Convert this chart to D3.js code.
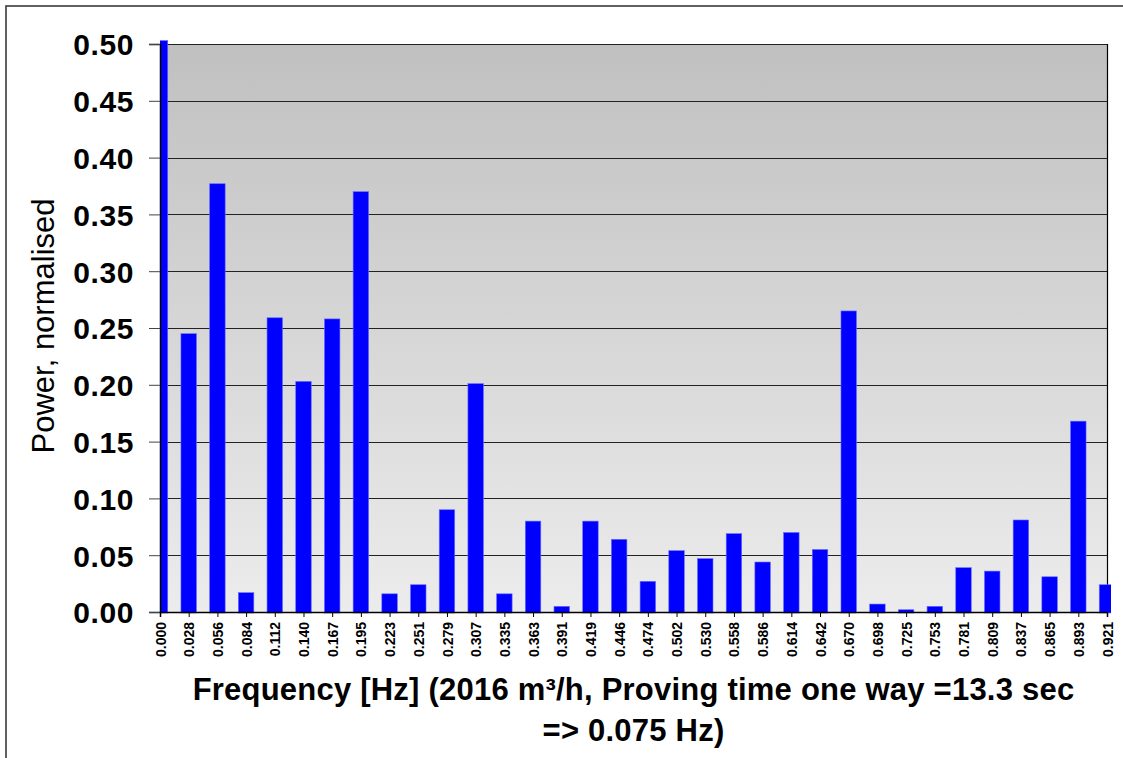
<!DOCTYPE html>
<html>
<head>
<meta charset="utf-8">
<script src="https://cdn.jsdelivr.net/npm/d3@7"></script>
<style>
  html, body { margin: 0; padding: 0; background: #fff; }
  svg { display: block; }
  text { font-family: Arial, "Liberation Sans", sans-serif; fill: #000; }
</style>
</head>
<body>
<svg id="chart" width="1123" height="758"></svg>
<script>
// Frequency bins (Hz)
const frequencies = ["0.000","0.028","0.056","0.084","0.112","0.140","0.167","0.195","0.223","0.251",
  "0.279","0.307","0.335","0.363","0.391","0.419","0.446","0.474","0.502","0.530",
  "0.558","0.586","0.614","0.642","0.670","0.698","0.725","0.753","0.781","0.809",
  "0.837","0.865","0.893","0.921"];

// Normalised power per bin
const power = [0.503, 0.245, 0.377, 0.017, 0.259, 0.203, 0.258, 0.370, 0.016, 0.024,
  0.090, 0.201, 0.016, 0.080, 0.005, 0.080, 0.064, 0.027, 0.054, 0.047,
  0.069, 0.044, 0.070, 0.055, 0.265, 0.007, 0.002, 0.005, 0.039, 0.036,
  0.081, 0.031, 0.168, 0.024];

// Value axis ticks
const yTicks = [0.00, 0.05, 0.10, 0.15, 0.20, 0.25, 0.30, 0.35, 0.40, 0.45, 0.50];

const yTitle = "Power, normalised";
const xTitleLines = ["Frequency [Hz] (2016 m\u00B3/h, Proving time one way =13.3 sec", "=> 0.075 Hz)"];

const svg = d3.select("#chart");
const plot = { left: 160, right: 1107, top: 44, bottom: 612 };

const x = d3.scalePoint().domain(frequencies).range([plot.left, plot.right]);
const y = d3.scaleLinear().domain([0, 0.5]).range([plot.bottom, plot.top]);
const barW = x.step() * 0.54;

// Outer frame
svg.append("rect")
  .attr("x", 6).attr("y", 6).attr("width", 1140).attr("height", 780)
  .attr("fill", "#fff").attr("stroke", "#3a3a3a").attr("stroke-width", 1.6);

// Plot background gradient
const defs = svg.append("defs");
const grad = defs.append("linearGradient").attr("id", "bg")
  .attr("x1", 0).attr("y1", 0).attr("x2", 0).attr("y2", 1);
grad.append("stop").attr("offset", "0%").attr("stop-color", "#c0c0c0");
grad.append("stop").attr("offset", "100%").attr("stop-color", "#ececec");

defs.append("clipPath").attr("id", "barclip")
  .append("rect").attr("x", plot.left).attr("y", 0)
  .attr("width", 1111 - plot.left).attr("height", plot.bottom + 4);

svg.append("rect")
  .attr("x", plot.left).attr("y", plot.top)
  .attr("width", plot.right - plot.left).attr("height", plot.bottom - plot.top)
  .attr("fill", "url(#bg)");

// Horizontal gridlines
svg.append("g").selectAll("line").data(yTicks.slice(1)).join("line")
  .attr("x1", plot.left).attr("x2", plot.right)
  .attr("y1", d => Math.round(y(d)) + 0.5).attr("y2", d => Math.round(y(d)) + 0.5)
  .attr("stroke", "#222").attr("stroke-width", 1);

// Plot border (right side)
svg.append("line")
  .attr("x1", plot.right + 0.5).attr("x2", plot.right + 0.5)
  .attr("y1", plot.top).attr("y2", plot.bottom)
  .attr("stroke", "#000").attr("stroke-width", 1.2);

// Bars
svg.append("g").attr("clip-path", "url(#barclip)")
  .selectAll("rect").data(power).join("rect")
  .attr("x", (d, i) => x(frequencies[i]) - barW / 2)
  .attr("y", d => y(d))
  .attr("width", barW)
  .attr("height", d => y(0) - y(d) + 1)
  .attr("fill", "#0000ff")
  .attr("stroke", "#6a6aff").attr("stroke-width", 0.6);

// Y axis
const yAxis = svg.append("g")
  .attr("transform", `translate(${plot.left},0)`)
  .call(d3.axisLeft(y).tickValues(yTicks).tickFormat(d3.format(".2f")).tickSize(11).tickPadding(15));
yAxis.select(".domain").attr("stroke", "#000").attr("stroke-width", 1.5);
yAxis.selectAll(".tick line").attr("stroke", "#444");
yAxis.selectAll("text")
  .style("font-size", "30px").style("font-weight", "bold")
  .style("letter-spacing", "0.6px")
  .attr("dy", "0.36em");

// X axis
const xAxis = svg.append("g")
  .attr("transform", `translate(0,${plot.bottom})`)
  .call(d3.axisBottom(x).tickSize(5).tickPadding(4));
xAxis.select(".domain").attr("stroke", "#000").attr("stroke-width", 1.5);
xAxis.selectAll(".tick line").attr("stroke", "#000");
xAxis.selectAll("text")
  .style("font-size", "14px").style("font-weight", "bold")
  .attr("text-anchor", "end")
  .attr("transform", "rotate(-90)")
  .attr("x", -10).attr("y", 0).attr("dy", "0.36em");

// Y title
svg.append("text")
  .attr("transform", `translate(54,326) rotate(-90)`)
  .attr("text-anchor", "middle")
  .style("font-size", "31px")
  .text(yTitle);

// X title (two lines)
const cx = (plot.left + plot.right) / 2;
svg.append("text")
  .attr("x", cx).attr("y", 700)
  .attr("text-anchor", "middle")
  .style("font-size", "31px").style("font-weight", "bold")
  .style("letter-spacing", "0.22px")
  .text(xTitleLines[0]);
svg.append("text")
  .attr("x", cx).attr("y", 741)
  .attr("text-anchor", "middle")
  .style("font-size", "31px").style("font-weight", "bold")
  .style("letter-spacing", "0.22px")
  .text(xTitleLines[1]);
</script>
</body>
</html>
